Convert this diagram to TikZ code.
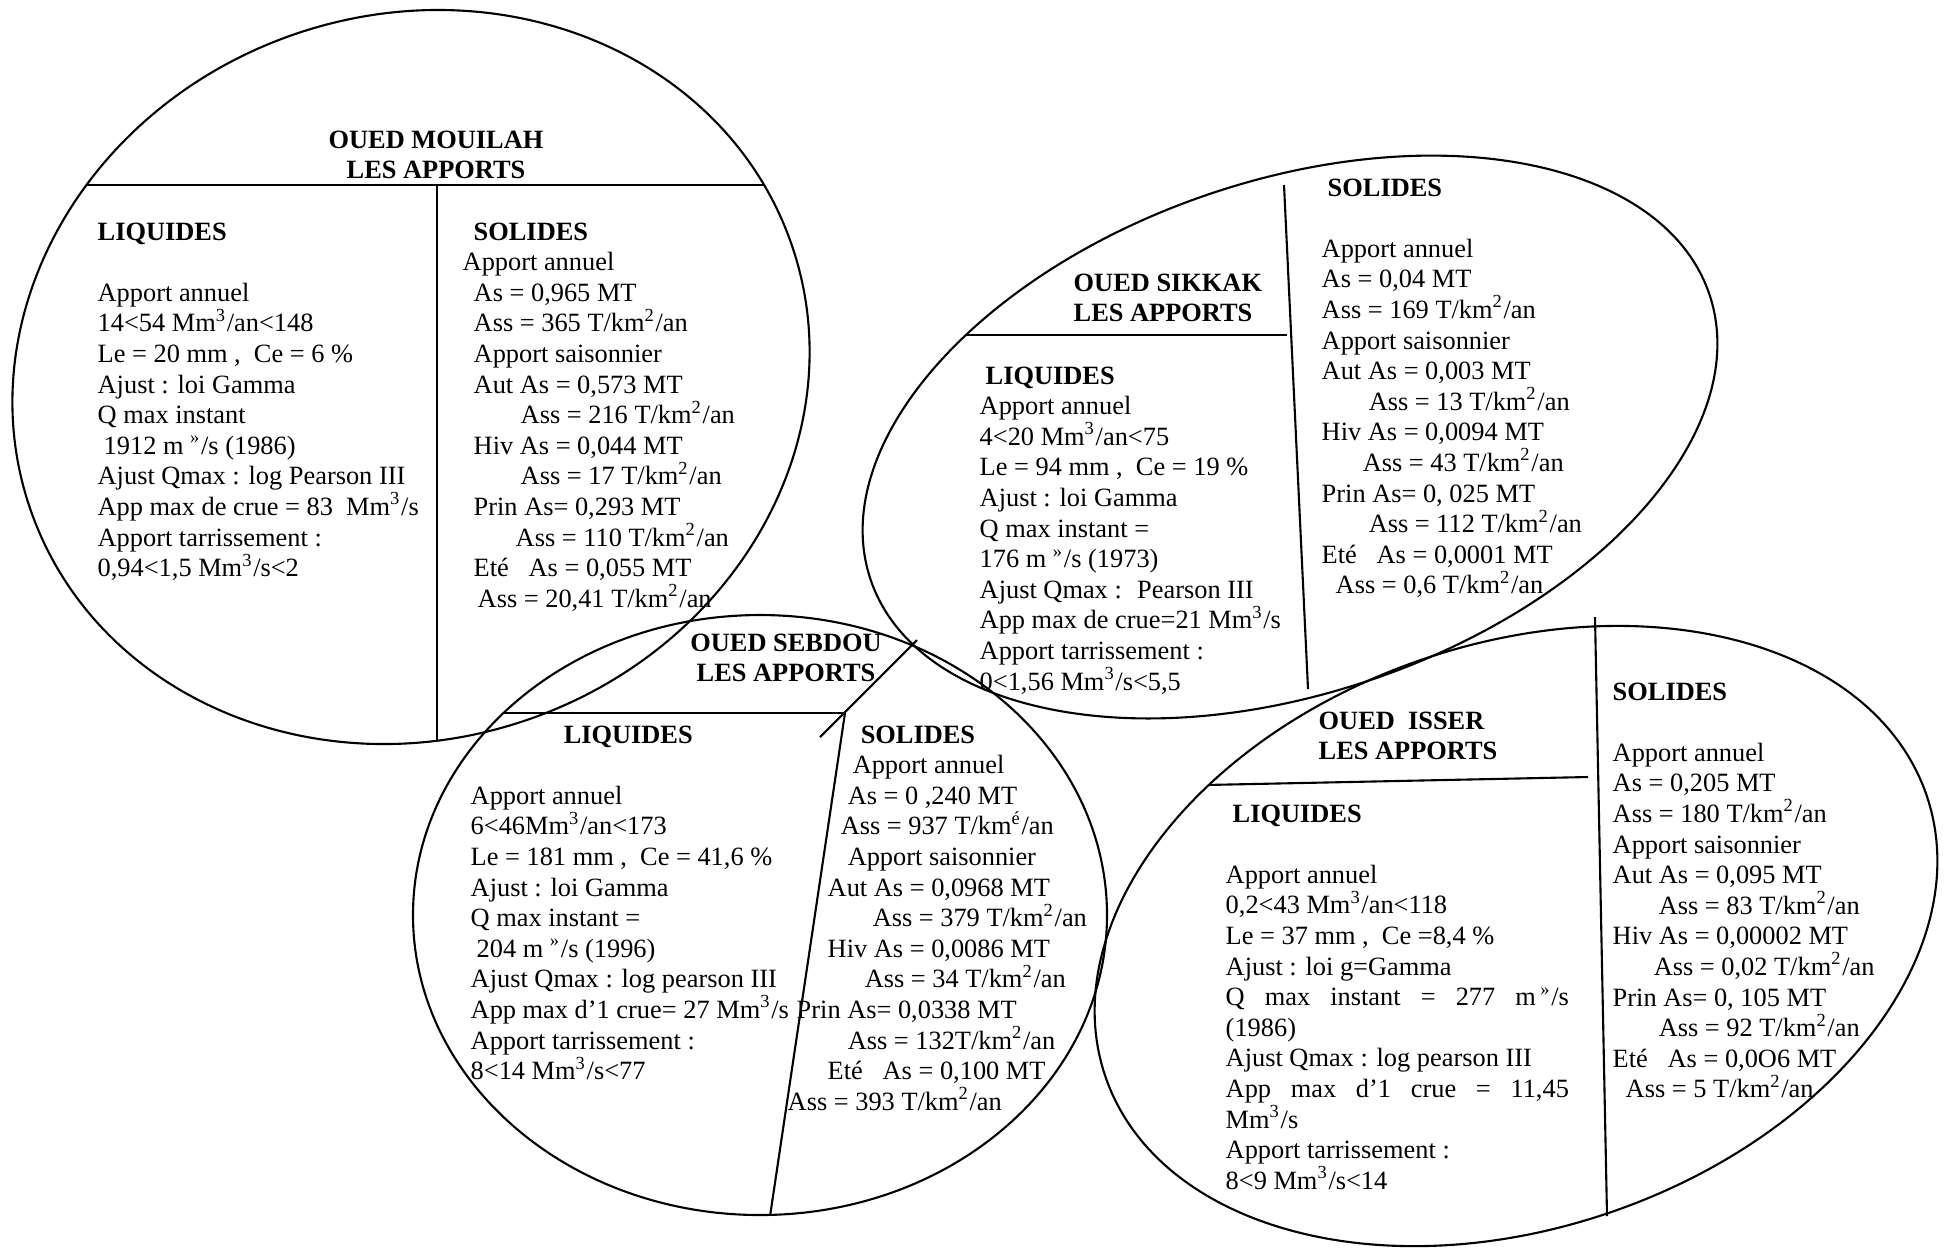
\documentclass[tikz,border=0pt]{standalone}
\usepackage{fontspec}
\setmainfont{Liberation Serif}
\usepackage{tikz}
\newcommand\bodysize{\fontsize{7.5}{8.7}\selectfont}

\begin{document}
\begin{tikzpicture}[x=0.01cm, y=-0.01cm]
    \tikzset{
        rim/.style={draw, line width=0.6pt},
        divider/.style={draw, line width=0.6pt},
        heading/.style={inner sep=0pt, align=center, font=\bodysize\bfseries,
            execute at begin node=\strut},
        txtcol/.style={anchor=north west, inner sep=0pt, align=left,
            font=\bodysize, execute at begin node=\strut},
    }
    \useasboundingbox (0,0) rectangle (1946,1256);

    % les quatre ellipses
    \draw[rim, rotate around={19.8:(411,377)}] (411,377) ellipse [x radius=403, y radius=362];
    \draw[rim, rotate around={18.85:(1290,437)}] (1290,437) ellipse [x radius=443, y radius=256];
    \draw[rim] (760,915) ellipse [x radius=347, y radius=300];
    \draw[rim, rotate around={18.95:(1516,936)}] (1516,936) ellipse [x radius=434, y radius=292];

    % separations
    \begin{scope}
        \clip[rotate around={19.8:(411,377)}] (411,377) ellipse [x radius=403, y radius=362];
        \draw[divider] (0,185) -- (900,185);
        \draw[divider] (437,185) -- (437,800);
    \end{scope}
    \begin{scope}
        \clip[rotate around={18.85:(1290,437)}] (1290,437) ellipse [x radius=443, y radius=256];
        \draw[divider] (800,335) -- (1287,335);
    \end{scope}
    \draw[divider] (1284,185) -- (1308,689);
    \begin{scope}
        \clip (760,915) ellipse [x radius=347, y radius=300];
        \draw[divider] (380,713) -- (845,713);
        \draw[divider] (845,713) -- (762,1270);
    \end{scope}
    \draw[divider] (820,737) -- (917,640);
    \begin{scope}
        \clip[rotate around={18.95:(1516,936)}] (1516,936) ellipse [x radius=434, y radius=292];
        \draw[divider] (1080,787.6) -- (1588,777);
    \end{scope}
    \draw[divider] (1595,617) -- (1607,1216);

    % OUED MOUILAH
    \node[heading, anchor=north] (mouTitle) at (436,130) {OUED MOUILAH\\LES APPORTS};
    \node[txtcol] (mouLiq) at (97,222) {\textbf{LIQUIDES}\\
        \strut\\
        Apport annuel\\
        14<54 Mm\textsuperscript{3}/an<148\\
        Le = 20 mm ,~ Ce = 6 \%\\
        Ajust : loi Gamma\\
        Q max instant\\
        \hspace*{0.06cm}1912 m \textsuperscript{»}/s (1986)\\
        Ajust Qmax : log Pearson III\\
        App max de crue = 83~ Mm\textsuperscript{3}/s\\
        Apport tarrissement :\\
        0,94<1,5 Mm\textsuperscript{3}/s<2};
    \node[txtcol] (mouSol) at (462,222) {\hspace*{0.11cm}\textbf{SOLIDES}\\
        Apport annuel\\
        \hspace*{0.11cm}As = 0,965 MT\\
        \hspace*{0.11cm}Ass = 365 T/km\textsuperscript{2}/an\\
        \hspace*{0.11cm}Apport saisonnier\\
        \hspace*{0.11cm}Aut As = 0,573 MT\\
        \hspace*{0.58cm}Ass = 216 T/km\textsuperscript{2}/an\\
        \hspace*{0.11cm}Hiv As = 0,044 MT\\
        \hspace*{0.58cm}Ass = 17 T/km\textsuperscript{2}/an\\
        \hspace*{0.11cm}Prin As= 0,293 MT\\
        \hspace*{0.53cm}Ass = 110 T/km\textsuperscript{2}/an\\
        \hspace*{0.11cm}Eté~~~As = 0,055 MT\\
        \hspace*{0.15cm}Ass = 20,41 T/km\textsuperscript{2}/an};

    % OUED SIKKAK
    \node[heading, anchor=north west, align=left] (sikTitle) at (1073,273) {OUED SIKKAK\\LES APPORTS};
    \node[txtcol] (sikLiq) at (979,366) {\hspace*{0.06cm}\textbf{LIQUIDES}\\
        Apport annuel\\
        4<20 Mm\textsuperscript{3}/an<75\\
        Le = 94 mm ,~ Ce = 19 \%\\
        Ajust : loi Gamma\\
        Q max instant =\\
        176 m \textsuperscript{»}/s (1973)\\
        Ajust Qmax :~ Pearson III\\
        App max de crue=21 Mm\textsuperscript{3}/s\\
        Apport tarrissement :\\
        0<1,56 Mm\textsuperscript{3}/s<5,5};
    \node[txtcol] (sikSol) at (1321,178) {\hspace*{0.06cm}\textbf{SOLIDES}\\
        \strut\\
        Apport annuel\\
        As = 0,04 MT\\
        Ass = 169 T/km\textsuperscript{2}/an\\
        Apport saisonnier\\
        Aut As = 0,003 MT\\
        \hspace*{0.47cm}Ass = 13 T/km\textsuperscript{2}/an\\
        Hiv As = 0,0094 MT\\
        \hspace*{0.41cm}Ass = 43 T/km\textsuperscript{2}/an\\
        Prin As= 0, 025 MT\\
        \hspace*{0.47cm}Ass = 112 T/km\textsuperscript{2}/an\\
        Eté~~~As = 0,0001 MT\\
        \hspace*{0.14cm}Ass = 0,6 T/km\textsuperscript{2}/an};

    % OUED SEBDOU
    \node[heading, anchor=north] (sebTitle) at (786,633) {OUED SEBDOU\\LES APPORTS};
    \node[txtcol] (sebLiq) at (470,725) {\hspace*{0.93cm}\textbf{LIQUIDES}\\
        \strut\\
        Apport annuel\\
        6<46Mm\textsuperscript{3}/an<173\\
        Le = 181 mm ,~ Ce = 41,6 \%\\
        Ajust : loi Gamma\\
        Q max instant =\\
        \hspace*{0.06cm}204 m \textsuperscript{»}/s (1996)\\
        Ajust Qmax : log pearson III\\
        App max d’1 crue= 27 Mm\textsuperscript{3}/s\\
        Apport tarrissement :\\
        8<14 Mm\textsuperscript{3}/s<77};
    \node[txtcol] (sebSol) at (787,725) {\hspace*{0.73cm}\textbf{SOLIDES}\\
        \hspace*{0.65cm}Apport annuel\\
        \hspace*{0.60cm}As = 0 ,240 MT\\
        \hspace*{0.53cm}Ass = 937 T/km\textsuperscript{é}/an\\
        \hspace*{0.60cm}Apport saisonnier\\
        \hspace*{0.40cm}Aut As = 0,0968 MT\\
        \hspace*{0.85cm}Ass = 379 T/km\textsuperscript{2}/an\\
        \hspace*{0.40cm}Hiv As = 0,0086 MT\\
        \hspace*{0.77cm}Ass = 34 T/km\textsuperscript{2}/an\\
        \hspace*{0.09cm}Prin As= 0,0338 MT\\
        \hspace*{0.60cm}Ass = 132T/km\textsuperscript{2}/an\\
        \hspace*{0.40cm}Eté~~~As = 0,100 MT\\
        Ass = 393 T/km\textsuperscript{2}/an};

    % OUED ISSER
    \node[heading, anchor=north west, align=left] (issTitle) at (1318,711) {OUED~ ISSER\\LES APPORTS};
    \node[txtcol] (issLiq) at (1225,804) {\hspace*{0.07cm}\textbf{LIQUIDES}\\
        \strut\\
        Apport annuel\\
        0,2<43 Mm\textsuperscript{3}/an<118\\
        Le = 37 mm ,~ Ce =8,4 \%\\
        Ajust : loi g=Gamma\\
        \makebox[3.43cm][s]{Q max instant = 277 m\,\textsuperscript{»}/s}\\
        (1986)\\
        Ajust Qmax : log pearson III\\
        \makebox[3.43cm][s]{App max d’1 crue = 11,45}\\
        Mm\textsuperscript{3}/s\\
        Apport tarrissement :\\
        8<9 Mm\textsuperscript{3}/s<14};
    \node[txtcol] (issSol) at (1612,682) {\textbf{SOLIDES}\\
        \strut\\
        Apport annuel\\
        As = 0,205 MT\\
        Ass = 180 T/km\textsuperscript{2}/an\\
        Apport saisonnier\\
        Aut As = 0,095 MT\\
        \hspace*{0.46cm}Ass = 83 T/km\textsuperscript{2}/an\\
        Hiv As = 0,00002 MT\\
        \hspace*{0.41cm}Ass = 0,02 T/km\textsuperscript{2}/an\\
        Prin As= 0, 105 MT\\
        \hspace*{0.46cm}Ass = 92 T/km\textsuperscript{2}/an\\
        Eté~~~As = 0,0O6 MT\\
        \hspace*{0.13cm}Ass = 5 T/km\textsuperscript{2}/an};
\end{tikzpicture}
\end{document}
